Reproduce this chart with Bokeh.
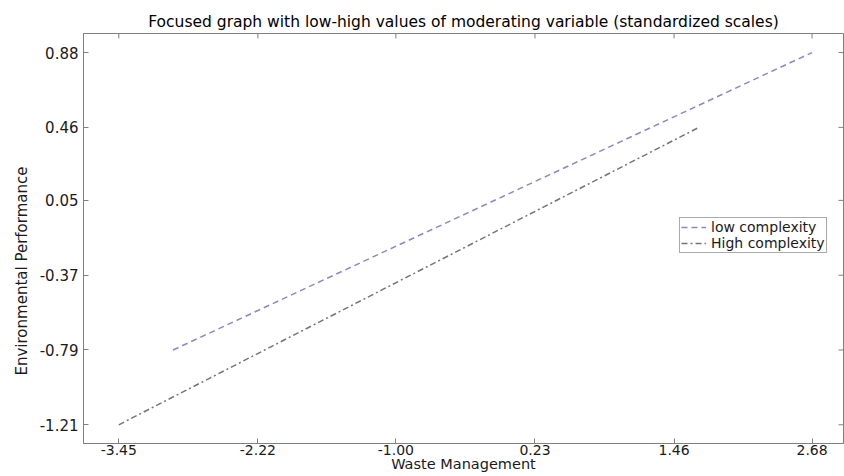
import math
from bokeh.plotting import figure
from bokeh.models import (FixedTicker, NumeralTickFormatter, Range1d, Title,
                          Legend, LegendItem)
from bokeh.embed import file_html
from bokeh.resources import INLINE

title_text = "Focused graph with low-high values of moderating variable (standardized scales)"
x_label = "Waste Management"
y_label = "Environmental Performance"
x_ticks = [-3.45, -2.22, -1.00, 0.23, 1.46, 2.68]
y_ticks = [-1.21, -0.79, -0.37, 0.05, 0.46, 0.88]
series_names = ["low complexity", "High complexity"]
low_x = [-2.97, 2.68]
low_y = [-0.79, 0.88]
high_x = [-3.45, 1.68]
high_y = [-1.21, 0.46]

X_START, X_END = -3.762, 2.958
Y_START, Y_END = -1.315, 0.987

FONT = "DejaVu Sans"
AXC = "#808080"
TXT = "#1a1a1a"

p = figure(frame_width=760, frame_height=410,
           x_range=Range1d(X_START, X_END), y_range=Range1d(Y_START, Y_END),
           output_backend="svg", toolbar_location=None,
           min_border_left=83, min_border_right=1, min_border_top=33, min_border_bottom=33,
           title=title_text)
p.xgrid.visible = False
p.ygrid.visible = False
p.outline_line_color = AXC
p.background_fill_color = "white"
p.border_fill_color = "white"

p.title.align = "center"
p.title.text_font = FONT
p.title.text_font_size = "15.5px"
p.title.text_font_style = "normal"
p.title.text_color = "black"
p.title.standoff = 6

def style_axis(ax, size):
    ax.axis_line_color = AXC
    ax.major_tick_line_color = AXC
    ax.minor_tick_line_color = None
    ax.major_tick_in = 5
    ax.major_tick_out = 0
    ax.major_label_text_font = FONT
    ax.major_label_text_font_size = size
    ax.major_label_text_color = TXT

xa = p.xaxis[0]
xa.ticker = FixedTicker(ticks=x_ticks)
xa.formatter = NumeralTickFormatter(format="0.00")
style_axis(xa, "14px")
xa.major_label_standoff = 1
xa.axis_label = x_label
xa.axis_label_text_font = FONT
xa.axis_label_text_font_size = "14.5px"
xa.axis_label_text_font_style = "normal"
xa.axis_label_text_color = TXT
xa.axis_label_standoff = -2

ya = p.yaxis[0]
ya.ticker = FixedTicker(ticks=y_ticks)
ya.formatter = NumeralTickFormatter(format="0.00")
style_axis(ya, "15px")
ya.major_label_standoff = 5

# y-axis title, shifted down like the reference
ytitle = Title(text=y_label, align="left", offset=68, standoff=12,
               text_font=FONT, text_font_size="15px", text_font_style="normal",
               text_color=TXT)
p.add_layout(ytitle, "left")

# inward tick marks on the top and right edges of the box
p.scatter(x=x_ticks, y=[Y_END] * len(x_ticks), marker="dash", angle=math.pi / 2,
          size=10, line_color=AXC, line_width=1)
p.scatter(x=[X_END] * len(y_ticks), y=y_ticks, marker="dash",
          size=10, line_color=AXC, line_width=1)

r_low = p.line(low_x, low_y, line_color="#8888d0", line_dash="6 4", line_width=1.5)
r_high = p.line(high_x, high_y, line_color="#757575", line_dash="6 3 2 3", line_width=1.5)

legend = Legend(items=[LegendItem(label=series_names[0], renderers=[r_low]),
                       LegendItem(label=series_names[1], renderers=[r_high])],
                location=(596, 190), orientation="vertical",
                border_line_color="#555555", border_line_width=1,
                background_fill_color="white", background_fill_alpha=1,
                label_text_font=FONT, label_text_font_size="14px", label_text_color=TXT,
                glyph_width=25, glyph_height=12, label_height=12, label_standoff=5,
                spacing=0, padding=1, margin=0)
p.add_layout(legend, "center")

open("out.html", "w").write(file_html(p, INLINE))
